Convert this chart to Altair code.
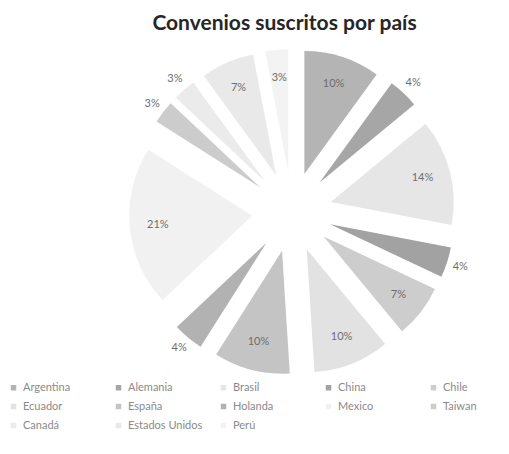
import altair as alt
import pandas as pd

paises = ["Argentina", "Alemania", "Brasil", "China", "Chile", "Ecuador", "España",
          "Holanda", "Mexico", "Taiwan", "Canadá", "Estados Unidos", "Perú"]
porcentajes = [10, 4, 14, 4, 7, 10, 10, 4, 21, 3, 3, 7, 3]
colores = ["#b4b4b4", "#a6a6a6", "#e6e6e6", "#a2a2a2", "#cdcdcd", "#e2e2e2", "#c4c4c4",
           "#b2b2b2", "#f1f1f1", "#cccccc", "#ebebeb", "#e9e9e9", "#f3f3f3"]

df = pd.DataFrame({"pais": paises, "valor": porcentajes, "orden": list(range(len(paises)))})

CX, CY = 284, 164   # pie centre in plot coordinates
R = 123             # slice radius
E = 40              # explosion distance

base = alt.Chart(df).transform_window(
    fin="sum(valor)", sort=[alt.SortField("orden")], frame=[None, 0]
).transform_joinaggregate(
    total="sum(valor)"
).transform_calculate(
    a0="2*PI*(datum.fin - datum.valor)/datum.total",
    a1="2*PI*datum.fin/datum.total",
).transform_calculate(
    mid="(datum.a0 + datum.a1)/2"
).transform_calculate(
    cx=f"{CX} + {E}*sin(datum.mid)",
    cy=f"{CY} - {E}*cos(datum.mid)",
    lr=f"(datum.valor <= 4 && datum.mid < 6.1) ? {E + R + 14} : {E + 0.77 * R}",
    etiqueta="datum.valor + '%'",
).transform_calculate(
    lx=f"{CX} + datum.lr*sin(datum.mid)",
    ly=f"{CY} - datum.lr*cos(datum.mid)",
)

arcs = base.mark_arc(radius=R, strokeWidth=0).encode(
    x=alt.X("cx:Q", scale=None, axis=None),
    y=alt.Y("cy:Q", scale=None, axis=None),
    theta=alt.Theta("a0:Q", scale=None, stack=None),
    theta2="a1:Q",
    color=alt.Color(
        "pais:N",
        sort=paises,
        scale=alt.Scale(domain=paises, range=colores),
        legend=alt.Legend(
            title=None, orient="none", legendX=0, legendY=334, columns=5,
            direction="horizontal", gridAlign="all",
            symbolType="square", symbolSize=30, symbolStrokeWidth=0,
            labelFont="Lato", labelFontSize=11, labelColor="#8a8a8a",
            labelOffset=4, columnPadding=15, rowPadding=7, labelLimit=200,
        ),
    ),
)

labels = base.mark_text(font="Lato", fontSize=11, color="#6e6e6e").encode(
    x=alt.X("lx:Q", scale=None, axis=None),
    y=alt.Y("ly:Q", scale=None, axis=None),
    text="etiqueta:N",
)

chart = alt.layer(arcs, labels).properties(
    width=493, height=398,
    autosize=alt.AutoSizeParams(type="none"),
    padding={"left": 0, "top": 40, "right": 0, "bottom": 0},
    title=alt.TitleParams(
        "Convenios suscritos por país", font="Lato", fontSize=21, fontWeight="bold",
        color="#262626", anchor="middle", dx=30, offset=14,
    ),
).configure_view(stroke=None)

chart.save("out.html", embed_options={"renderer": "svg", "actions": False})
